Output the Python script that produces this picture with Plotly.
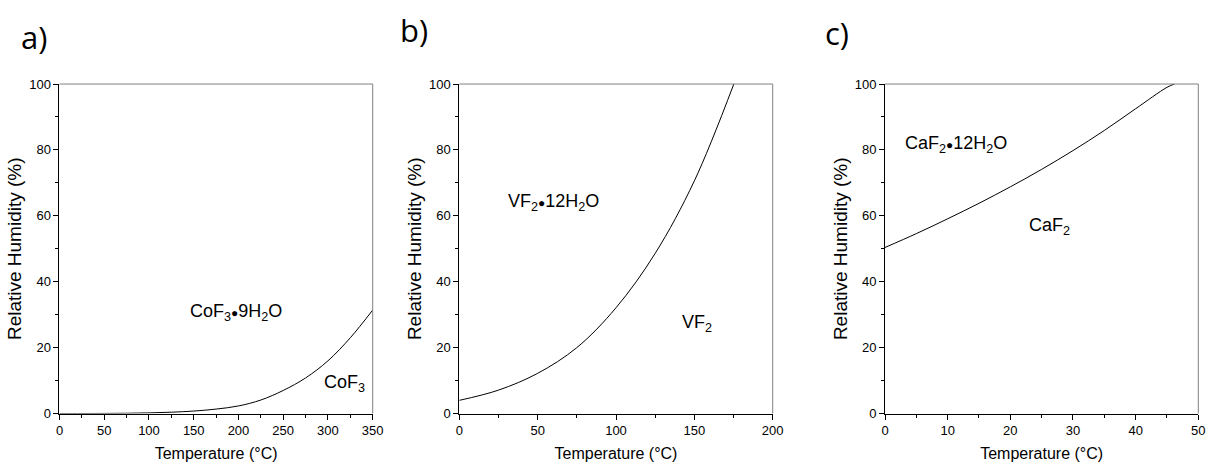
import plotly.graph_objects as go

# Panel a: CoF3 / CoF3·9H2O
temp_a = [0, 25, 50, 75, 100, 125, 150, 175, 200, 225, 250, 275, 300, 325, 350]
rh_a = [0.0, 0.005, 0.03, 0.08, 0.2, 0.4, 0.75, 1.35, 2.3, 4.1, 7.0, 10.8, 16.0, 23.0, 31.4]

# Panel b: VF2 / VF2·12H2O
temp_b = [0, 25, 50, 75, 100, 125, 150, 175.2]
rh_b = [4.0, 7.1, 12.2, 20.0, 32.1, 48.6, 70.6, 100.0]

# Panel c: CaF2 / CaF2·12H2O
temp_c = [0, 5, 10, 15, 20, 25, 30, 35, 40, 45, 46.2]
rh_c = [50.4, 54.6, 59.1, 63.8, 68.8, 74.1, 79.8, 85.9, 92.5, 99.0, 100.0]

x_ranges = [[0, 350], [0, 200], [0, 50]]
x_dticks = [50, 50, 10]
y_range = [0, 100]

FONT = "Liberation Sans, Arial, sans-serif"

fig = go.Figure()
doms = [[0.04925, 0.30853], [0.38022, 0.63965], [0.73262, 0.99197]]
ydom = [0.1126, 0.8197]

series = [(temp_a, rh_a), (temp_b, rh_b), (temp_c, rh_c)]
for i, (xs, ys) in enumerate(series):
    k = "" if i == 0 else str(i + 1)
    fig.add_trace(go.Scatter(x=xs, y=ys, mode="lines", line=dict(color="black", width=1, shape="spline"),
                             xaxis="x" + k, yaxis="y" + k, showlegend=False, hoverinfo="skip"))

layout = dict(width=1208, height=466, margin=dict(l=0, r=0, t=0, b=0),
              paper_bgcolor="white", plot_bgcolor="white", showlegend=False,
              font=dict(family=FONT, color="black"))
for i in range(3):
    k = "" if i == 0 else str(i + 1)
    layout["xaxis" + k] = dict(domain=doms[i], range=x_ranges[i], dtick=x_dticks[i], tick0=0,
                               anchor="y" + k, showgrid=False, zeroline=False, automargin=False,
                               showline=True, linecolor="black", linewidth=1, mirror=False,
                               ticks="outside", ticklen=5, tickcolor="black", tickwidth=1,
                               minor=dict(ticks="outside", ticklen=3, dtick=x_dticks[i] / 2,
                                          tickcolor="black", tickwidth=1),
                               tickfont=dict(size=13, family=FONT),
                               title=dict(text="Temperature (°C)", font=dict(size=16, family=FONT), standoff=10))
    layout["yaxis" + k] = dict(domain=ydom, range=y_range, dtick=20, tick0=0,
                               anchor="x" + k, showgrid=False, zeroline=False, automargin=False,
                               showline=True, linecolor="black", linewidth=1, mirror=False,
                               ticks="outside", ticklen=5, tickcolor="black", tickwidth=1,
                               minor=dict(ticks="outside", ticklen=3, dtick=10,
                                          tickcolor="black", tickwidth=1),
                               tickfont=dict(size=13, family=FONT),
                               title=dict(text="Relative Humidity (%)", font=dict(size=19, family=FONT), standoff=2))
fig.update_layout(**layout)

# top / right frame lines (grey)
for i in range(3):
    k = "" if i == 0 else str(i + 1)
    fig.add_shape(type="line", xref="x" + k + " domain", yref="y" + k + " domain",
                  x0=0, x1=1, y0=1, y1=1, line=dict(color="#808080", width=1))
    fig.add_shape(type="line", xref="x" + k + " domain", yref="y" + k + " domain",
                  x0=1, x1=1, y0=0, y1=1, line=dict(color="#808080", width=1))

DOT = "<span style='font-size:12px'>●</span>"
labels = [
    ("x", "y", 197, 30.8, "CoF<sub>3</sub>" + DOT + "9H<sub>2</sub>O"),
    ("x", "y", 318, 9.0, "CoF<sub>3</sub>"),
    ("x2", "y2", 60, 64.0, "VF<sub>2</sub>" + DOT + "12H<sub>2</sub>O"),
    ("x2", "y2", 151.5, 27.3, "VF<sub>2</sub>"),
    ("x3", "y3", 11.4, 81.5, "CaF<sub>2</sub>" + DOT + "12H<sub>2</sub>O"),
    ("x3", "y3", 26.3, 56.9, "CaF<sub>2</sub>"),
]
for xr, yr, x, y, t in labels:
    fig.add_annotation(x=x, y=y, xref=xr, yref=yr, text=t, showarrow=False,
                       font=dict(size=18, family=FONT, color="black"))

panel_letters = [("a)", 34, 37), ("b)", 414, 30), ("c)", 837, 33)]
for t, px, py in panel_letters:
    fig.add_annotation(x=px / 1208, y=1 - py / 466, xref="paper", yref="paper", text=t,
                       showarrow=False, xanchor="center", yanchor="middle",
                       font=dict(size=31, family="Open Sans, Lato, sans-serif", color="black"))

fig.write_html("out.html")
